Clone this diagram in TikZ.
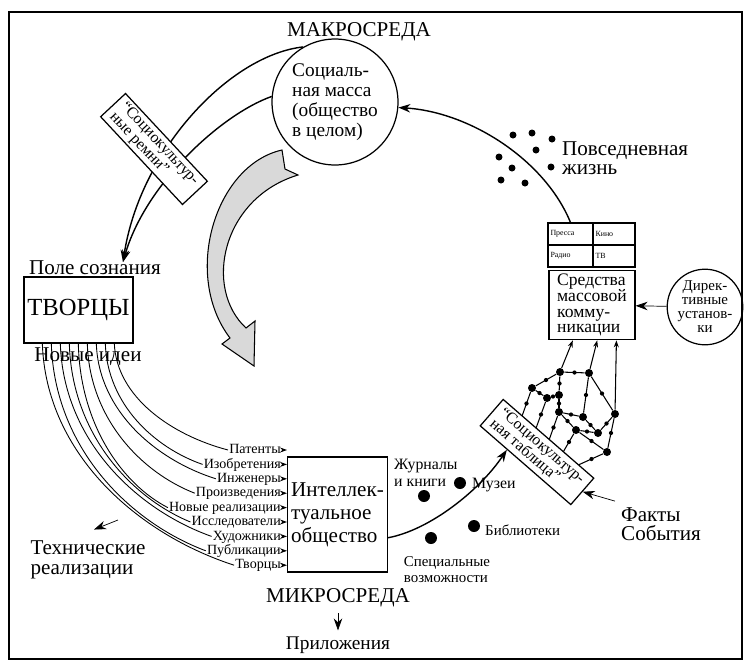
\documentclass[tikz,border=0pt]{standalone}
\usepackage{fontspec}
\setmainfont{Liberation Serif}
\usetikzlibrary{calc,arrows.meta,positioning}

\begin{document}
\begin{tikzpicture}[x=0.02cm,y=-0.02cm,
    arr/.style={-{Stealth[length=2.4mm,width=1.7mm]}},
    arrs/.style={-{Stealth[length=1.4mm,width=1mm]}},
    box/.style={draw,line width=0.7pt,inner sep=2pt},
    cell/.style={draw,line width=0.6pt,minimum height=0.44cm,inner sep=0.05cm,align=left,font=\fontsize{4.5}{5}\selectfont},
    lbl/.style={anchor=east,inner sep=0.5pt,text height=5.5pt,text depth=1.2pt,font=\fontsize{8}{8}\selectfont},
    knot/.style={circle,fill,inner sep=0pt,minimum size=1.6mm},
    bigdot/.style={circle,fill,inner sep=0pt,minimum size=2.4mm},
    smalldot/.style={circle,fill,inner sep=0pt,minimum size=1.4mm}]

    \useasboundingbox (0,0) rectangle (745,667);
    % рамка
    \draw[line width=0.9pt] (9,12) rectangle (742,659);

    % макросреда
    \node[font=\fontsize{12}{12}\selectfont] (mak) at (359,32) {МАКРОСРЕДА};
    \node[circle,draw,line width=0.7pt,minimum size=2.52cm,inner sep=0pt,align=left,
          font=\fontsize{11}{11.3}\selectfont] (sm) at (335,102) {Социаль-\\ная масса\\(общество\\в целом)};

    % серая стрелка
    \fill[gray!30,draw=black,line width=0.6pt] (282,150) .. controls (215,165) and (182,275) .. (230,338)
        -- (222,344) -- (254,366) -- (255,321) -- (246,328)
        .. controls (203,288) and (222,198) .. (298,175) -- (285,169) -- cycle;

    % творцы
    \node[font=\fontsize{12}{12}\selectfont] (pole) at (95,268) {Поле сознания};
    \node[box,minimum width=2.1cm,minimum height=1.32cm,font=\fontsize{14}{14}\selectfont] (tv) at (78.5,310) {ТВОРЦЫ};
    \node[font=\fontsize{12}{12}\selectfont] (nov) at (88,357) {Новые идеи};
    \coordinate (fin) at (123,262);
    \draw[arr,line width=0.8pt] (sm.120) .. controls (230,55) and (140,150) .. (fin);
    \draw[arr,line width=0.8pt] (sm.175) .. controls (220,115) and (145,185) .. (fin);
    \node[box,fill=white,rotate=-47,minimum width=2.4cm,minimum height=0.68cm,inner sep=1pt,align=left,
          font=\fontsize{9}{8.5}\selectfont] (rem) at (154,149) {“Социокультур-\\ные ремни”};

    % СМИ
    \node[cell,text width=0.8cm] (pr1) at (570.5,234) {Пресса};
    \node[cell,text width=0.74cm] (pr2) at (614,234) {Кино};
    \node[cell,text width=0.8cm] (pr3) at (570.5,256) {Радио};
    \node[cell,text width=0.74cm] (pr4) at (614,256) {ТВ};
    \node[box,minimum width=1.72cm,minimum height=1.32cm,align=left,
          font=\fontsize{10}{9}\selectfont] (sr) at (592,305) {Средства\\массовой\\комму-\\никации};
    \node[circle,draw,line width=0.7pt,minimum size=1.4cm,inner sep=0pt,align=center,
          font=\fontsize{8.5}{8}\selectfont] (dir) at (705,307) {Дирек-\\тивные\\установ-\\ки};
    \draw[arr] (dir) -- (sr);
    \draw[arr,line width=0.8pt] (pr1.north) .. controls (545,160) and (470,112) .. (sm.-5);

    % повседневная жизнь
    \foreach \i/\x/\y in {1/513/135,2/532/133,3/552/139,4/536/150,5/499/157,6/512/168,7/551/167,8/501/180,9/525/183}
        \node[smalldot] (dz\i) at (\x,\y) {};
    \node[anchor=west,align=left,font=\fontsize{12}{10.5}\selectfont] (pov) at (556,158) {Повседневная\\жизнь};

    % сеть
    \foreach \n/\x/\y in {1/532/388,2/560/372,3/589/373,4/547/398,5/559/395,6/559/412,7/583/417,8/615/414,9/576/430,10/598/433,11/607/452}
        \node[knot] (k\n) at (\x,\y) {};
    \coordinate (b1) at (521,419);
    \coordinate (b2) at (535,431);
    \coordinate (b3) at (548,443);
    \coordinate (b4) at (562,454);
    \coordinate (b5) at (576,466);
    \foreach \a/\b in {k1/k2,k2/k3,k3/k8,k8/k11,k1/k4,k4/k5,k5/k2,k5/k6,k6/k7,k7/k3,k7/k10,k10/k8,k6/k9,k9/k10,k11/k9,k1/b1,k4/b2,k6/b3,k9/b4,k11/b5} {
        \draw[line width=0.6pt] (\a) -- (\b);
        \fill ($(\a)!0.5!(\b)$) circle (1.2pt);
    }
    \draw[arrs,line width=0.6pt] (k2) -- ($(sr.south west)!0.28!(sr.south east)$);
    \draw[arrs,line width=0.6pt] (k3) -- ($(sr.south west)!0.56!(sr.south east)$);
    \draw[arrs,line width=0.6pt] (k8) -- ($(sr.south west)!0.78!(sr.south east)$);
    \node[box,fill=white,rotate=-41,minimum width=2.4cm,minimum height=0.7cm,inner sep=1pt,align=left,
          font=\fontsize{9}{8.5}\selectfont] (tb) at (537,452) {“Социокультур-\\ная таблица”};
    \node[anchor=west,align=left,font=\fontsize{12}{11}\selectfont] (ff) at (615,524) {Факты\\События};
    \draw[arr] (ff.north west) -- (tb.east);

    % микросреда
    \node[box,minimum width=1.82cm,minimum height=2.3cm,align=left,
          font=\fontsize{12}{13}\selectfont] (ib) at (337.5,514.5) {Интеллек-\\туальное\\общество};
    \foreach \i/\t in {1/Патенты,2/Изобретения,3/Инженеры,4/Произведения,5/Новые реализации,
                       6/Исследователи,7/Художники,8/Публикации,9/Творцы} {
        \node[lbl] (l\i) at (282,{450+14.4*(\i-1)}) {\t};
        \draw[arrs,line width=0.5pt] (l\i.east) -- (l\i.east -| ib.west);
    }
    \foreach \i in {1,...,9} {
        \pgfmathsetmacro{\off}{91-9*(\i-1)}
        \draw[line width=0.5pt] let \p1 = ($(tv.south west)+(\off,0)$), \p2 = (l\i.west) in
            (\p1) .. controls ({\x1+0.02*(\x2-\x1)},{\y1+0.5*(\y2-\y1)})
                  and ({\x2-0.5*(\x2-\x1)},{\y2-0.14*(\y2-\y1)}) .. (\p2);
    }

    \node[font=\fontsize{12}{11.5}\selectfont,align=left] (tech) at (88,560) {Технические\\реализации};
    \coordinate (techsrc) at (118,520);
    \draw[arr] (techsrc) -- ($(tech.north)+(6,-5)$);

    \node[bigdot] (dj) at (424,496) {};
    \node[bigdot] (dm) at (460,483) {};
    \node[bigdot] (db) at (474,526) {};
    \node[bigdot] (ds) at (431,538) {};
    \node[anchor=west,align=left,font=\fontsize{9}{10}\selectfont] (zh) at (388,473) {Журналы\\и книги};
    \node[anchor=west,font=\fontsize{9}{9}\selectfont] (mu) at (466,485) {Музеи};
    \node[anchor=west,font=\fontsize{8.5}{8.5}\selectfont] (bi) at (479,530) {Библиотеки};
    \node[align=left,font=\fontsize{8.5}{9}\selectfont] (sp) at (447,570) {Специальные\\возможности};
    \draw[arr,line width=0.8pt] ($(ib.south east)!0.3!(ib.north east)$) .. controls (430,530) and (480,490) ..
        ($(tb.south west)!0.3!(tb.south east)$);

    \node[font=\fontsize{12}{12}\selectfont] (mic) at (338,598) {МИКРОСРЕДА};
    \node[font=\fontsize{11}{11}\selectfont] (app) at (338,645) {Приложения};
    \draw[arr] (mic) -- (app);
\end{tikzpicture}
\end{document}
